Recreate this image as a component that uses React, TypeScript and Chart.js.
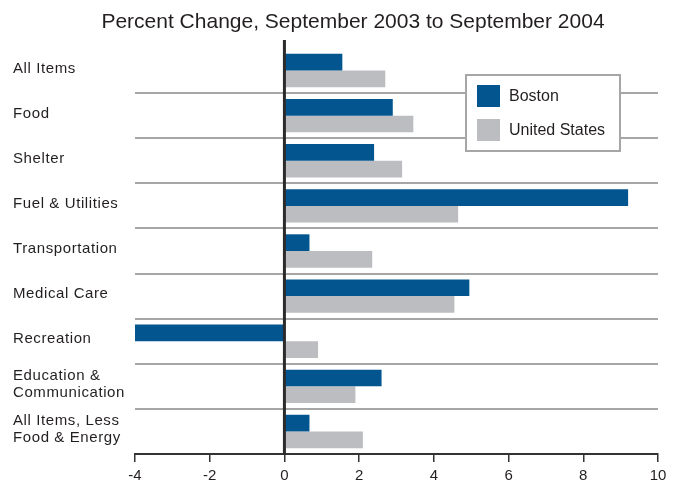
import React, { useEffect, useRef } from "react";
import { Chart, registerables } from "chart.js";

Chart.register(...registerables);

const chartTitle = "Percent Change, September 2003 to September 2004";
const categories: string[][] = [
  ["All Items"],
  ["Food"],
  ["Shelter"],
  ["Fuel & Utilities"],
  ["Transportation"],
  ["Medical Care"],
  ["Recreation"],
  ["Education &", "Communication"],
  ["All Items, Less", "Food & Energy"],
];
const seriesNames = ["Boston", "United States"];
const bostonValues = [1.55, 2.9, 2.4, 9.2, 0.67, 4.95, -4.0, 2.6, 0.67];
const usValues = [2.7, 3.45, 3.15, 4.65, 2.35, 4.55, 0.9, 1.9, 2.1];
const xMin = -4;
const xMax = 10;
const xStep = 2;

const BLUE = "#03558f";
const GREY = "#bcbdc0";
const LINE = "#a6a6a6";
const TEXT = "#231f20";
const FONT = "'Liberation Sans', Arial, Helvetica, sans-serif";

const extrasPlugin = {
  id: "extras",
  afterDatasetsDraw(chart: any) {
    const { ctx, chartArea, scales } = chart;
    const x0 = scales.x.getPixelForValue(0);
    ctx.save();
    // zero line
    ctx.strokeStyle = "#2b2b2b";
    ctx.lineWidth = 3;
    ctx.beginPath();
    ctx.moveTo(x0, chartArea.top - 8);
    ctx.lineTo(x0, chartArea.bottom + 1);
    ctx.stroke();

    // category labels (left aligned, slightly tracked)
    const ys = scales.y;
    ctx.font = `15px ${FONT}`;
    (ctx as any).letterSpacing = "0.6px";
    ctx.fillStyle = TEXT;
    ctx.textAlign = "left";
    ctx.textBaseline = "middle";
    (chart.data.labels as string[][]).forEach((lines, i) => {
      const cy = ys.getPixelForTick(i) - 2;
      const lh = 17;
      const start = cy - ((lines.length - 1) * lh) / 2;
      lines.forEach((t, j) => ctx.fillText(t, 13, start + j * lh));
    });
    (ctx as any).letterSpacing = "0px";

    // legend box
    const bx = 466, by = 75, bw = 154, bh = 76;
    ctx.fillStyle = "#ffffff";
    ctx.fillRect(bx, by, bw, bh);
    ctx.strokeStyle = LINE;
    ctx.lineWidth = 2;
    ctx.strokeRect(bx, by, bw, bh);
    const ds = chart.data.datasets;
    ctx.font = `16px ${FONT}`;
    ctx.textBaseline = "middle";
    ctx.textAlign = "left";
    ds.forEach((d: any, i: number) => {
      const sy = 85 + i * 34;
      ctx.fillStyle = d.backgroundColor;
      ctx.fillRect(477, sy, 23, 22);
      ctx.fillStyle = TEXT;
      ctx.fillText(d.label, 509, sy + 12);
    });

    // title
    ctx.font = `21px ${FONT}`;
    ctx.textAlign = "center";
    ctx.textBaseline = "alphabetic";
    ctx.fillStyle = TEXT;
    ctx.fillText(chartTitle, 353, 28);
    ctx.restore();
  },
};

export default function App() {
  const ref = useRef<HTMLCanvasElement>(null);
  useEffect(() => {
    if (!ref.current) return;
    Chart.defaults.font.family = FONT;
    const chart = new Chart(ref.current, {
      type: "bar",
      data: {
        labels: categories,
        datasets: [
          { label: seriesNames[0], data: bostonValues, backgroundColor: BLUE },
          { label: seriesNames[1], data: usValues, backgroundColor: GREY },
        ],
      },
      options: {
        indexAxis: "y",
        responsive: false,
        animation: false,
        events: [],
        datasets: { bar: { categoryPercentage: 0.74, barPercentage: 1.0 } },
        layout: { padding: { left: 13, right: 17, top: 48, bottom: 0 } },
        plugins: { legend: { display: false }, title: { display: false }, tooltip: { enabled: false } },
        scales: {
          x: {
            type: "linear",
            min: xMin,
            max: xMax,
            ticks: { stepSize: xStep, color: TEXT, font: { size: 15 }, padding: 5 },
            grid: { drawOnChartArea: false, drawTicks: true, tickLength: 8, color: "#333333", lineWidth: 1.5 },
            border: { display: true, color: "#333333", width: 2 },
            afterFit: (s: any) => { s.height = 31; },
          },
          y: {
            type: "category",
            ticks: { display: false },
            grid: {
              offset: true,
              drawTicks: false,
              lineWidth: 2,
              color: (c: any) => (c.type !== "tick" || c.index === 0 ? "rgba(0,0,0,0)" : LINE),
            },
            border: { display: false },
            afterFit: (s: any) => { s.width = 122; },
          },
        },
      },
      plugins: [extrasPlugin],
    });
    return () => chart.destroy();
  }, []);
  return (
    <div style={{ position: "absolute", left: 0, top: 0, width: 675, height: 485, background: "#fff" }}>
      <canvas ref={ref} width={675} height={485} style={{ display: "block" }} />
    </div>
  );
}
